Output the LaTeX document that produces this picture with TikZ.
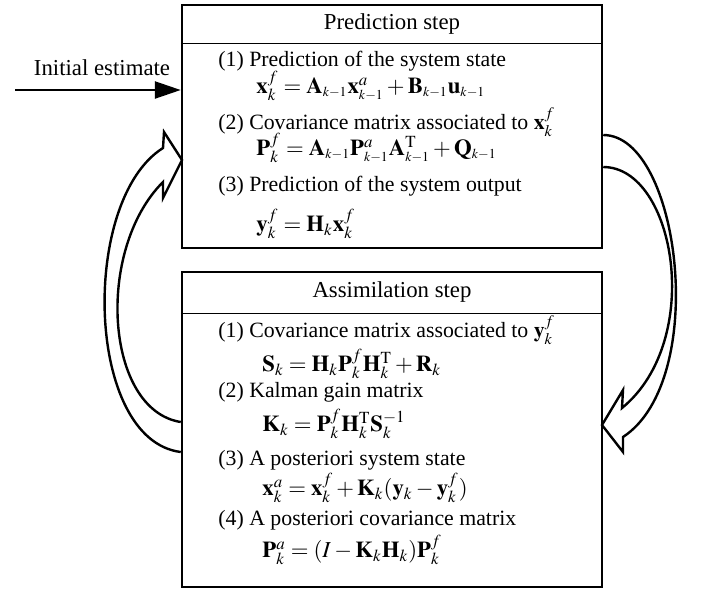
\documentclass[tikz,border=0pt]{standalone}
\usepackage{mathptmx}
\usepackage{fontspec}
\setmainfont{Liberation Serif}
\usetikzlibrary{arrows.meta}
\newcommand{\kmo}{{\scriptscriptstyle k-1}}

\begin{document}
\begin{tikzpicture}[x=0.5pt,y=-0.5pt,
  font=\fontsize{11.4}{13.7}\selectfont,
  stepbox/.style={draw, line width=1.25pt, minimum width=210pt, inner sep=0pt},
  rule/.style={line width=0.5pt},
  item/.style={anchor=west, inner sep=0pt, font=\fontsize{10.9}{13}\selectfont},
  formula/.style={anchor=west, inner sep=0pt},
  hollow/.style={line width=1.2pt, line join=miter}]
\useasboundingbox (0,0) rectangle (702,591);
\node[stepbox, minimum height=121.5pt] (pred) at (392,126.5) {};
\node[stepbox, minimum height=157.5pt] (assim) at (392,429.5) {};
\coordinate (ph) at (392,43);
\coordinate (ah) at (392,313);
\draw[rule] (pred.west |- ph) -- (pred.east |- ph);
\draw[rule] (assim.west |- ah) -- (assim.east |- ah);
\node (predtitle) at (392,24) {Prediction step};
\node (assimtitle) at (392,292) {Assimilation step};
\node[item] (p1) at (218,61) {(1) Prediction of the system state};
\node[formula] (p1eq) at (256,86) {$\mathbf{x}_k^f = \mathbf{A}_\kmo\mathbf{x}_\kmo^a + \mathbf{B}_\kmo\mathbf{u}_\kmo$};
\node[item] (p2) at (218,122) {(2) Covariance matrix associated to $\mathbf{x}_k^f$};
\node[formula] (p2eq) at (256,148) {$\mathbf{P}_k^f = \mathbf{A}_\kmo\mathbf{P}_\kmo^a\mathbf{A}_\kmo^{\mathrm{T}} + \mathbf{Q}_\kmo$};
\node[item] (p3) at (218,186) {(3) Prediction of the system output};
\node[formula] (p3eq) at (256,224) {$\mathbf{y}_k^f = \mathbf{H}_k\mathbf{x}_k^f$};
\node[item] (a1) at (218,330) {(1) Covariance matrix associated to $\mathbf{y}_k^f$};
\node[formula] (a1eq) at (262,364) {$\mathbf{S}_k = \mathbf{H}_k\mathbf{P}_k^f\mathbf{H}_k^{\mathrm{T}} + \mathbf{R}_k$};
\node[item] (a2) at (218,392) {(2) Kalman gain matrix};
\node[formula] (a2eq) at (262,424) {$\mathbf{K}_k = \mathbf{P}_k^f\mathbf{H}_k^{\mathrm{T}}\mathbf{S}_k^{-1}$};
\node[item] (a3) at (218,460) {(3) A posteriori system state};
\node[formula] (a3eq) at (262,488) {$\mathbf{x}_k^a = \mathbf{x}_k^f + \mathbf{K}_k(\mathbf{y}_k - \mathbf{y}_k^f)$};
\node[item] (a4) at (218,520) {(4) A posteriori covariance matrix};
\node[formula] (a4eq) at (262,550) {$\mathbf{P}_k^a = (I - \mathbf{K}_k\mathbf{H}_k)\mathbf{P}_k^f$};
\node (initlbl) at (102,68) {Initial estimate};
\coordinate (start) at (15,90);
\draw[line width=1.25pt, -{Triangle[length=13pt,width=8.5pt]}] (start) -- (pred.west |- start);
\draw[hollow] (assim.west |- 0,452) .. controls (85,440) and (80,200) .. (163,148)
  -- (164,132) -- (182,160) -- (163,198) -- (163,182)
  .. controls (95,250) and (105,410) .. (assim.west |- 0,422);
\draw[hollow] (pred.east |- 0,135) .. controls (680,135) and (710,380) .. (623,437)
  -- (623,452) -- (602,425) -- (623,390) -- (622,408)
  .. controls (705,340) and (675,167) .. (pred.east |- 0,167);
\end{tikzpicture}
\end{document}
